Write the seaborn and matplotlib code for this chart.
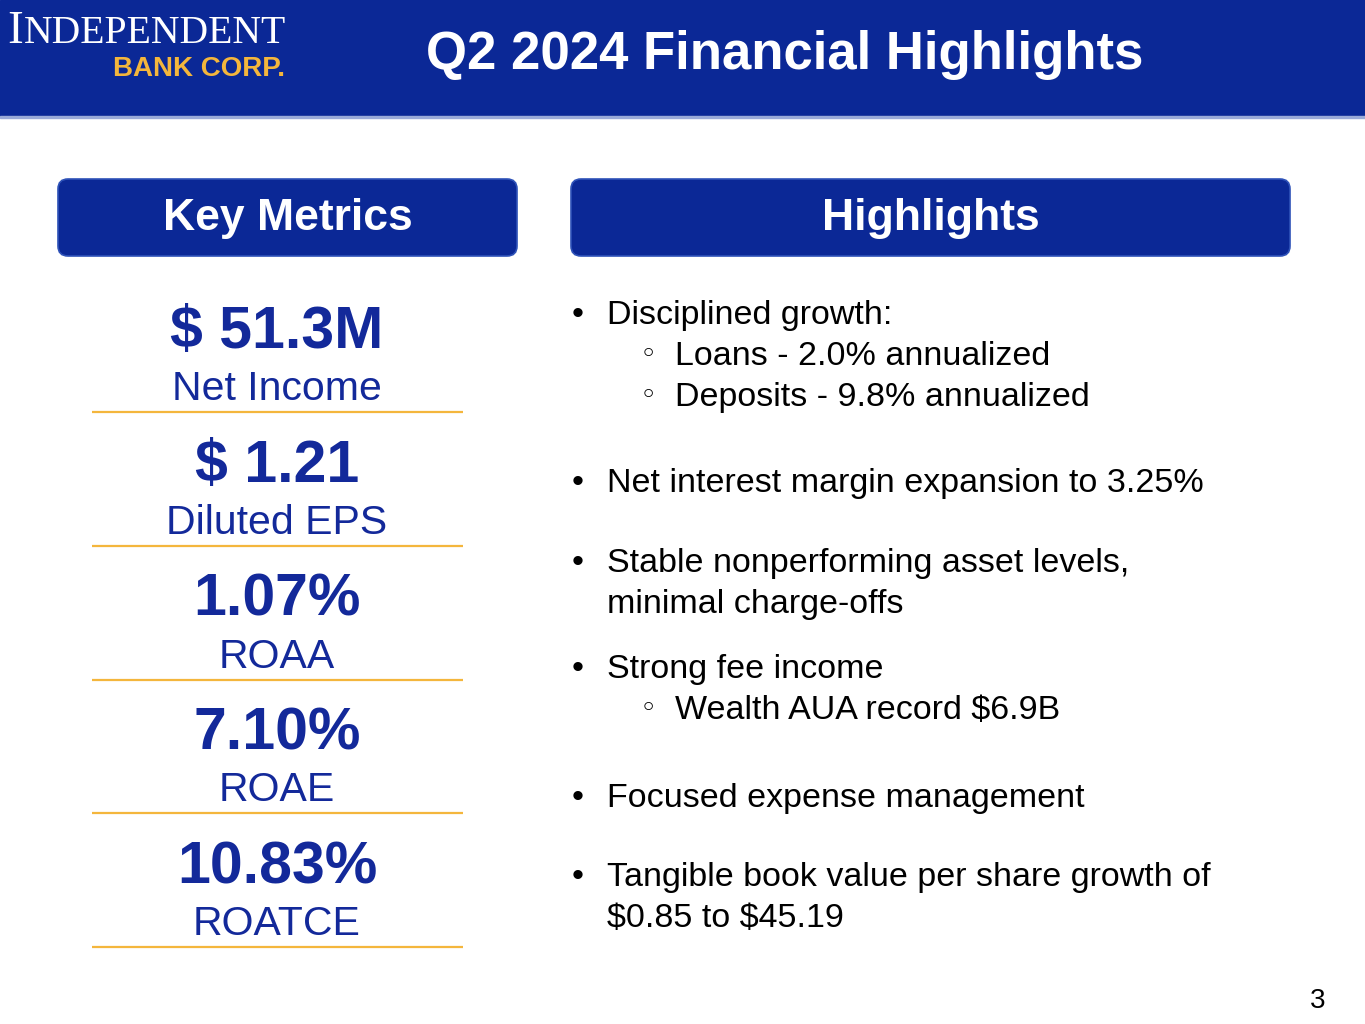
import numpy as np
import matplotlib
matplotlib.use("Agg")
import matplotlib.pyplot as plt
import seaborn as sns
from matplotlib.patches import FancyBboxPatch, Rectangle

sns.set_theme(style="white")
plt.rcParams["font.family"] = ["Liberation Sans", "DejaVu Sans"]
plt.rcParams["text.parse_math"] = False

# ── Content ───────────────────────────────────────────────
TITLE = "Q2 2024 Financial Highlights"
METRIC_VALUES = ["$ 51.3M", "$ 1.21", "1.07%", "7.10%", "10.83%"]
METRIC_LABELS = ["Net Income", "Diluted EPS", "ROAA", "ROAE", "ROATCE"]

HIGHLIGHT_GROUPS = [
    [(0, "Disciplined growth:"), (1, "Loans - 2.0% annualized"), (1, "Deposits - 9.8% annualized")],
    [(0, "Net interest margin expansion to 3.25%")],
    [(0, "Stable nonperforming asset levels,"), (2, "minimal charge-offs")],
    [(0, "Strong fee income"), (1, "Wealth AUA record $6.9B")],
    [(0, "Focused expense management")],
    [(0, "Tangible book value per share growth of"), (2, "$0.85 to $45.19")],
]
PAGE = "3"

# ── Style / layout ────────────────────────────────────────
NAVY = "#0b2896"
TEXT_BLUE = "#13299a"
GOLD = "#f4b63c"
GROUP_Y = [324, 492, 572, 678, 807, 886]
LINE_STEP = 40.8

fig = plt.figure(figsize=(13.65, 10.24), dpi=100)
ax = fig.add_axes([0, 0, 1, 1])
ax.set_xlim(0, 1365)
ax.set_ylim(1024, 0)
ax.axis("off")

# header band
ax.add_patch(Rectangle((0, 0), 1365, 116, color=NAVY, zorder=1))
ax.add_patch(Rectangle((0, 116), 1365, 2, color="#9aaad8", zorder=1))
ax.text(785, 69, TITLE, color="white", fontsize=38, fontweight="bold",
        ha="center", va="baseline", zorder=3)

# logo
ax.text(7, 43, "I", color="white", fontsize=34, family="Liberation Serif",
        ha="left", va="baseline", zorder=3)
ax.text(24, 43, "NDEPENDENT", color="white", fontsize=28.5, family="Liberation Serif",
        ha="left", va="baseline", zorder=3)
ax.text(113, 76, "BANK CORP.", color=GOLD, fontsize=20, fontweight="bold",
        ha="left", va="baseline", zorder=3)

# section headers
for x0, x1, label in [(58, 517, "Key Metrics"), (571, 1290, "Highlights")]:
    ax.add_patch(FancyBboxPatch((x0, 179), x1 - x0, 77,
                                boxstyle="round,pad=0,rounding_size=10",
                                facecolor=NAVY, edgecolor="#2e52b8", linewidth=1.2, zorder=2))
    ax.text((x0 + x1) / 2, 230, label, color="white", fontsize=32, fontweight="bold",
            ha="center", va="baseline", zorder=3)

# key metrics column
for i, (val, lab) in enumerate(zip(METRIC_VALUES, METRIC_LABELS)):
    y0 = 348 + 133.8 * i
    ax.text(277, y0, val, color=TEXT_BLUE, fontsize=42.5, fontweight="bold",
            ha="center", va="baseline")
    ax.text(277, y0 + 52, lab, color=TEXT_BLUE, fontsize=29.5,
            ha="center", va="baseline")
    ax.plot([92, 463], [y0 + 64, y0 + 64], color=GOLD, linewidth=1.6,
            solid_capstyle="butt")

# highlights column: level 0 = bullet, 1 = sub-bullet, 2 = continuation line
for gy, group in zip(GROUP_Y, HIGHLIGHT_GROUPS):
    for row, (level, txt) in enumerate(group):
        y = gy + row * LINE_STEP
        if level == 0:
            ax.text(578, y, "\u2022", fontsize=24.5, color="black",
                    ha="center", va="baseline")
            ax.text(607, y, txt, fontsize=24.5, color="black",
                    ha="left", va="baseline")
        elif level == 1:
            ax.text(648, y - 2, "\u25e6", fontsize=21, color="black",
                    ha="center", va="baseline", family="DejaVu Sans")
            ax.text(675, y, txt, fontsize=24.5, color="black",
                    ha="left", va="baseline")
        else:
            ax.text(607, y, txt, fontsize=24.5, color="black",
                    ha="left", va="baseline")

ax.text(1318, 1008, PAGE, fontsize=20, color="black", ha="center", va="baseline")

fig.savefig("out.png", dpi=100)
